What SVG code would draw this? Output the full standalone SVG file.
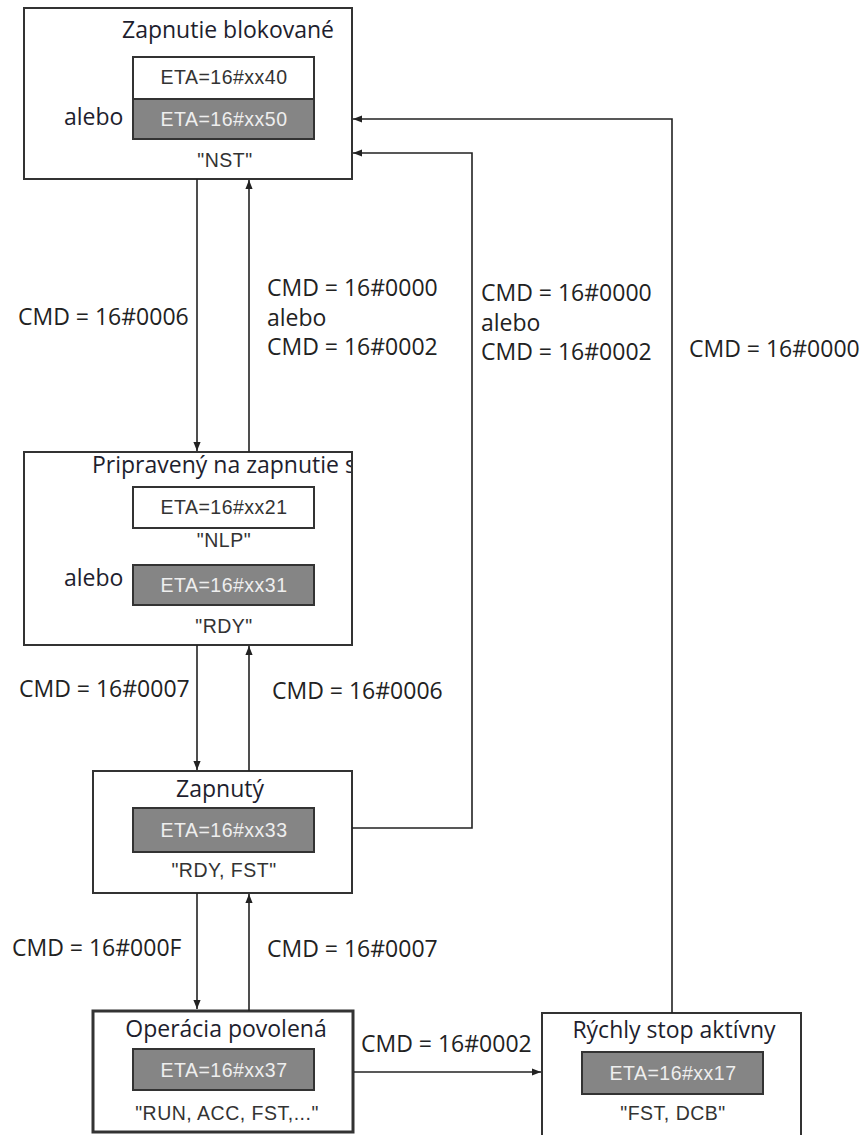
<svg xmlns="http://www.w3.org/2000/svg" width="864" height="1135" viewBox="0 0 864 1135">
<style>
.box{fill:#fff;stroke:#333;stroke-width:2}
.bold{stroke-width:3}
.wbox{fill:#fff;stroke:#333;stroke-width:2}
.gbox{fill:#858585;stroke:#333;stroke-width:2}
.title{font-family:"Open Sans","Noto Sans",sans-serif;font-size:23px;fill:#1e1e2e}
.lbl{font-family:"Open Sans","Noto Sans",sans-serif;font-size:23px;fill:#222}
.eta{font-family:"Liberation Sans",Arial,sans-serif;font-size:19.5px;letter-spacing:0.5px;text-anchor:middle}
.dark{fill:#333}
.light{fill:#eee}
.conn{fill:none;stroke:#222;stroke-width:1.6}
</style>
<defs>
<marker id="ah" viewBox="0 0 10 10" refX="10" refY="5" markerWidth="9" markerHeight="9" markerUnits="userSpaceOnUse" orient="auto">
<path d="M0,1 L10,5 L0,9 Z" fill="#222"/>
</marker>
<clipPath id="c2"><rect x="24" y="452" width="327" height="193"/></clipPath>
</defs>

<g id="n1">
<rect class="box" x="24" y="8" width="328" height="171"/>
<text class="title" x="228" y="38" text-anchor="middle">Zapnutie blokované</text>
<rect class="wbox" x="133" y="57" width="181" height="42"/>
<text class="eta dark" x="224" y="84">ETA=16#xx40</text>
<rect class="gbox" x="133" y="99" width="181" height="40"/>
<text class="eta light" x="224" y="126">ETA=16#xx50</text>
<text class="title" x="64" y="125">alebo</text>
<text class="eta dark" x="225" y="167">"NST"</text>
</g>

<g id="n2">
<rect class="box" x="24" y="452" width="328" height="193"/>
<text class="title" x="92" y="473" clip-path="url(#c2)">Pripravený na zapnutie s</text>
<rect class="wbox" x="133" y="487" width="181" height="41"/>
<text class="eta dark" x="224" y="514">ETA=16#xx21</text>
<text class="eta dark" x="224" y="547">"NLP"</text>
<text class="title" x="64" y="586">alebo</text>
<rect class="gbox" x="133" y="565" width="181" height="40"/>
<text class="eta light" x="224" y="592">ETA=16#xx31</text>
<text class="eta dark" x="224" y="633">"RDY"</text>
</g>

<g id="n3">
<rect class="box" x="93" y="771" width="259" height="122"/>
<text class="title" x="220" y="797" text-anchor="middle">Zapnutý</text>
<rect class="gbox" x="133" y="808" width="181" height="44"/>
<text class="eta light" x="224" y="837">ETA=16#xx33</text>
<text class="eta dark" x="224" y="877">"RDY, FST"</text>
</g>

<g id="n4">
<rect class="box bold" x="93" y="1011" width="260" height="121"/>
<text class="title" x="226" y="1037" text-anchor="middle">Operácia povolená</text>
<rect class="gbox" x="133" y="1049" width="181" height="41"/>
<text class="eta light" x="224" y="1077">ETA=16#xx37</text>
<text class="eta dark" x="227" y="1120">"RUN, ACC, FST,..."</text>
</g>

<g id="n5">
<rect class="box" x="542" y="1013" width="259" height="130"/>
<text class="title" x="674" y="1038" text-anchor="middle">Rýchly stop aktívny</text>
<rect class="gbox" x="582" y="1052" width="181" height="42"/>
<text class="eta light" x="673" y="1080">ETA=16#xx17</text>
<text class="eta dark" x="673" y="1120">"FST, DCB"</text>
</g>

<g id="connectors">
<path class="conn" d="M197,179 V451" marker-end="url(#ah)"/>
<path class="conn" d="M249,452 V180" marker-end="url(#ah)"/>
<path class="conn" d="M197,645 V770" marker-end="url(#ah)"/>
<path class="conn" d="M249,771 V646" marker-end="url(#ah)"/>
<path class="conn" d="M197,893 V1009" marker-end="url(#ah)"/>
<path class="conn" d="M249,1011 V894" marker-end="url(#ah)"/>
<path class="conn" d="M352,828 H472 V153 H353" marker-end="url(#ah)"/>
<path class="conn" d="M672,1013 V119 H353" marker-end="url(#ah)"/>
<path class="conn" d="M354,1072 H541" marker-end="url(#ah)"/>
</g>

<g id="labels">
<text class="lbl" x="18" y="325">CMD = 16#0006</text>
<text class="lbl" x="267" y="296">CMD = 16#0000</text>
<text class="lbl" x="267" y="326">alebo</text>
<text class="lbl" x="267" y="355">CMD = 16#0002</text>
<text class="lbl" x="481" y="301">CMD = 16#0000</text>
<text class="lbl" x="481" y="331">alebo</text>
<text class="lbl" x="481" y="360">CMD = 16#0002</text>
<text class="lbl" x="689" y="357">CMD = 16#0000</text>
<text class="lbl" x="19" y="697">CMD = 16#0007</text>
<text class="lbl" x="272" y="699">CMD = 16#0006</text>
<text class="lbl" x="12" y="956">CMD = 16#000F</text>
<text class="lbl" x="267" y="957">CMD = 16#0007</text>
<text class="lbl" x="361" y="1052">CMD = 16#0002</text>
</g>
</svg>
